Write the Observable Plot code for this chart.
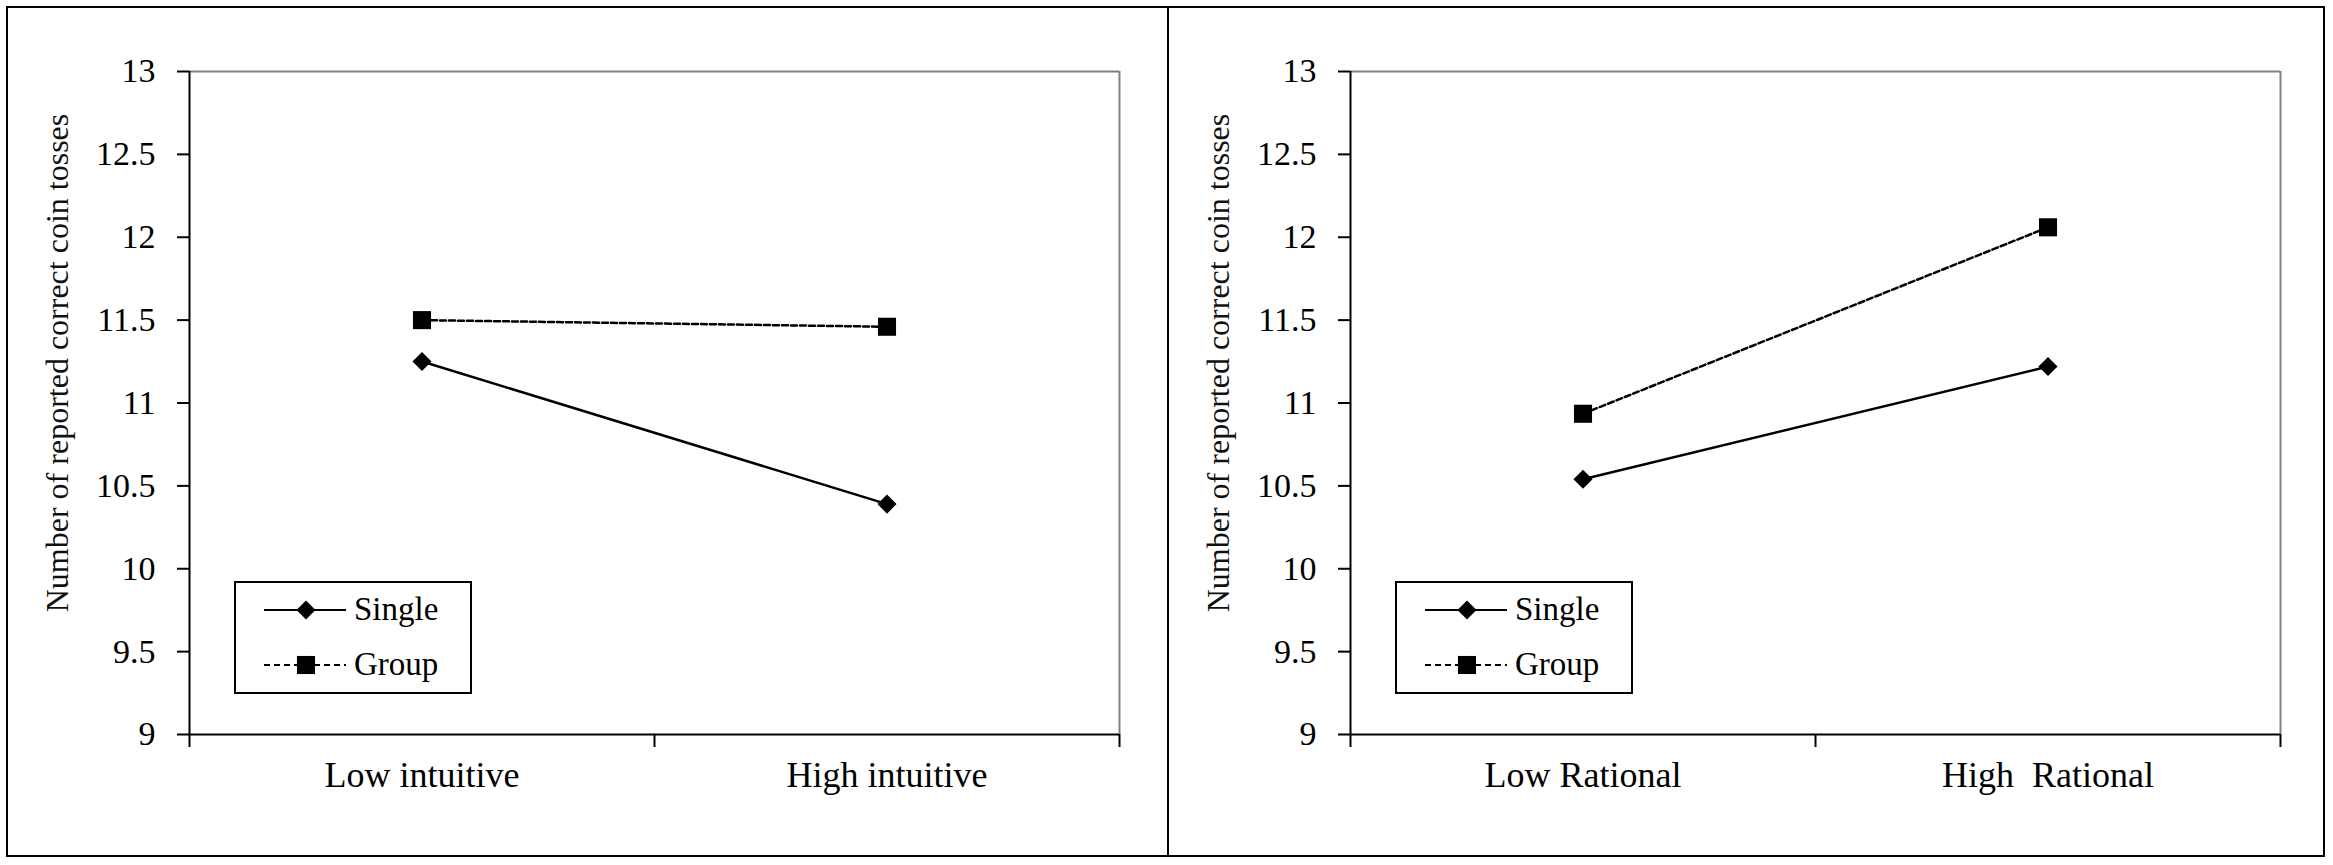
<!DOCTYPE html>
<html>
<head>
<meta charset="utf-8">
<script src="https://cdn.jsdelivr.net/npm/d3@7"></script>
<script src="https://cdn.jsdelivr.net/npm/@observablehq/plot@0.6"></script>
<style>
  body { margin: 0; background: #fff; }
  #wrap { position: relative; width: 2333px; height: 865px; overflow: hidden; background: #fff;
          font-family: "Liberation Serif", "Times New Roman", serif; }
  .panel { position: absolute; top: 0; }
  .panel svg { max-width: none; font-family: "Liberation Serif", "Times New Roman", serif !important; }
  .panel svg text { font-family: "Liberation Serif", "Times New Roman", serif; }
  svg text { white-space: pre; }
  .frame { position: absolute; left: 6px; top: 6px; width: 2319px; height: 851px;
           border: 2px solid #000; box-sizing: border-box; z-index: 5; pointer-events: none; }
  .divider { position: absolute; left: 1167px; top: 6px; width: 2px; height: 851px;
             background: #000; z-index: 5; }
  .legend { position: absolute; z-index: 4; }
</style>
</head>
<body>
<div id="wrap">
  <div class="frame"></div>
  <div class="divider"></div>
</div>
<script>
// ---- data ----
const yTitle = "Number of reported correct coin tosses";
const yTicks = [9, 9.5, 10, 10.5, 11, 11.5, 12, 12.5, 13];
const seriesNames = ["Single", "Group"];

const intuitiveCats = ["Low intuitive", "High intuitive"];
const intuitiveSingle = [11.25, 10.39];
const intuitiveGroup = [11.50, 11.46];

const rationalCats = ["Low Rational", "High  Rational"];
const rationalSingle = [10.54, 11.22];
const rationalGroup = [10.935, 12.06];

// ---- drawing ----
const FONT = "'Liberation Serif', 'Times New Roman', serif";
const wrap = document.getElementById("wrap");

function makePanel(cats, single, group, left, width, marginLeft, marginRight) {
  const rows = [];
  cats.forEach((c, i) => {
    rows.push({series: seriesNames[0], cat: c, idx: i, v: single[i]});
    rows.push({series: seriesNames[1], cat: c, idx: i, v: group[i]});
  });
  const sRows = rows.filter(d => d.series === seriesNames[0]);
  const gRows = rows.filter(d => d.series === seriesNames[1]);
  const xPos = d => d.idx + 0.5;
  const n = cats.length;

  const chart = Plot.plot({
    width, height: 865,
    marginLeft, marginRight, marginTop: 71, marginBottom: 131,
    x: {domain: [0, n], axis: null},
    y: {domain: [9, 13], axis: null},
    style: {background: "transparent", fontFamily: FONT, color: "#000", overflow: "visible"},
    marks: [
      // plot-area border (grey) top & right
      Plot.ruleY([13], {stroke: "#808080", strokeWidth: 2}),
      Plot.ruleX([n], {stroke: "#808080", strokeWidth: 2}),
      // axes
      Plot.axisY({ticks: yTicks, tickSize: 12, tickPadding: 22, tickFormat: d => String(d),
                  fontSize: 34, fontFamily: FONT, strokeWidth: 2, label: null}),
      Plot.axisX({ticks: d3.range(n + 1), tickSize: 13, tickFormat: () => "", strokeWidth: 2, label: null}),
      Plot.ruleX([0], {stroke: "#000", strokeWidth: 2}),
      Plot.ruleY([9], {stroke: "#000", strokeWidth: 2}),
      // category labels
      Plot.text(cats, {x: (d, i) => i + 0.5, frameAnchor: "bottom", dy: 52, fontSize: 36,
                       fontFamily: FONT, fill: "#000"}),
      // y title
      Plot.text([yTitle], {frameAnchor: "left", textAnchor: "middle", rotate: -90, dx: -132, dy: -40,
                           fontSize: 32, fontFamily: FONT, fill: "#111"}),
      // series
      Plot.line(gRows, {x: xPos, y: "v", stroke: "#000", strokeWidth: 2.5, strokeDasharray: "6,3"}),
      Plot.line(sRows, {x: xPos, y: "v", stroke: "#000", strokeWidth: 2.5}),
      Plot.dot(gRows, {x: xPos, y: "v", symbol: "square", r: 10.2, fill: "#000", stroke: "none"}),
      Plot.dot(sRows, {x: xPos, y: "v", symbol: "diamond2", r: 8.6, fill: "#000", stroke: "none"})
    ]
  });

  const div = document.createElement("div");
  div.className = "panel";
  div.style.left = left + "px";
  div.appendChild(chart);
  wrap.appendChild(div);

  // legend box
  const lg = d3.create("svg")
    .attr("class", "legend")
    .attr("width", 238).attr("height", 113)
    .style("left", (left + marginLeft + 45) + "px")
    .style("top", "581px")
    .style("position", "absolute");
  lg.append("rect").attr("x", 1).attr("y", 1).attr("width", 236).attr("height", 111)
    .attr("fill", "#fff").attr("stroke", "#000").attr("stroke-width", 2);
  const rowsY = [29, 84];
  const dashes = [null, "6,4"];
  seriesNames.forEach((name, k) => {
    const y = rowsY[k];
    const l = lg.append("line").attr("x1", 30).attr("x2", 112).attr("y1", y).attr("y2", y)
      .attr("stroke", "#000").attr("stroke-width", 2.2);
    if (dashes[k]) l.attr("stroke-dasharray", dashes[k]);
    if (k === 0) {
      lg.append("path").attr("transform", `translate(72,${y})`)
        .attr("d", d3.symbol(d3.symbolDiamond2, Math.PI * 8.6 * 8.6)()).attr("fill", "#000");
    } else {
      lg.append("path").attr("transform", `translate(72,${y})`)
        .attr("d", d3.symbol(d3.symbolSquare, Math.PI * 10.2 * 10.2)()).attr("fill", "#000");
    }
    lg.append("text").attr("x", 120).attr("y", y + 10).text(name)
      .attr("font-size", 33).attr("font-family", FONT).attr("fill", "#000");
  });
  wrap.appendChild(lg.node());
}

makePanel(intuitiveCats, intuitiveSingle, intuitiveGroup, 0, 1168, 189, 49);
makePanel(rationalCats, rationalSingle, rationalGroup, 1168, 1165, 182, 53);
</script>
</body>
</html>
